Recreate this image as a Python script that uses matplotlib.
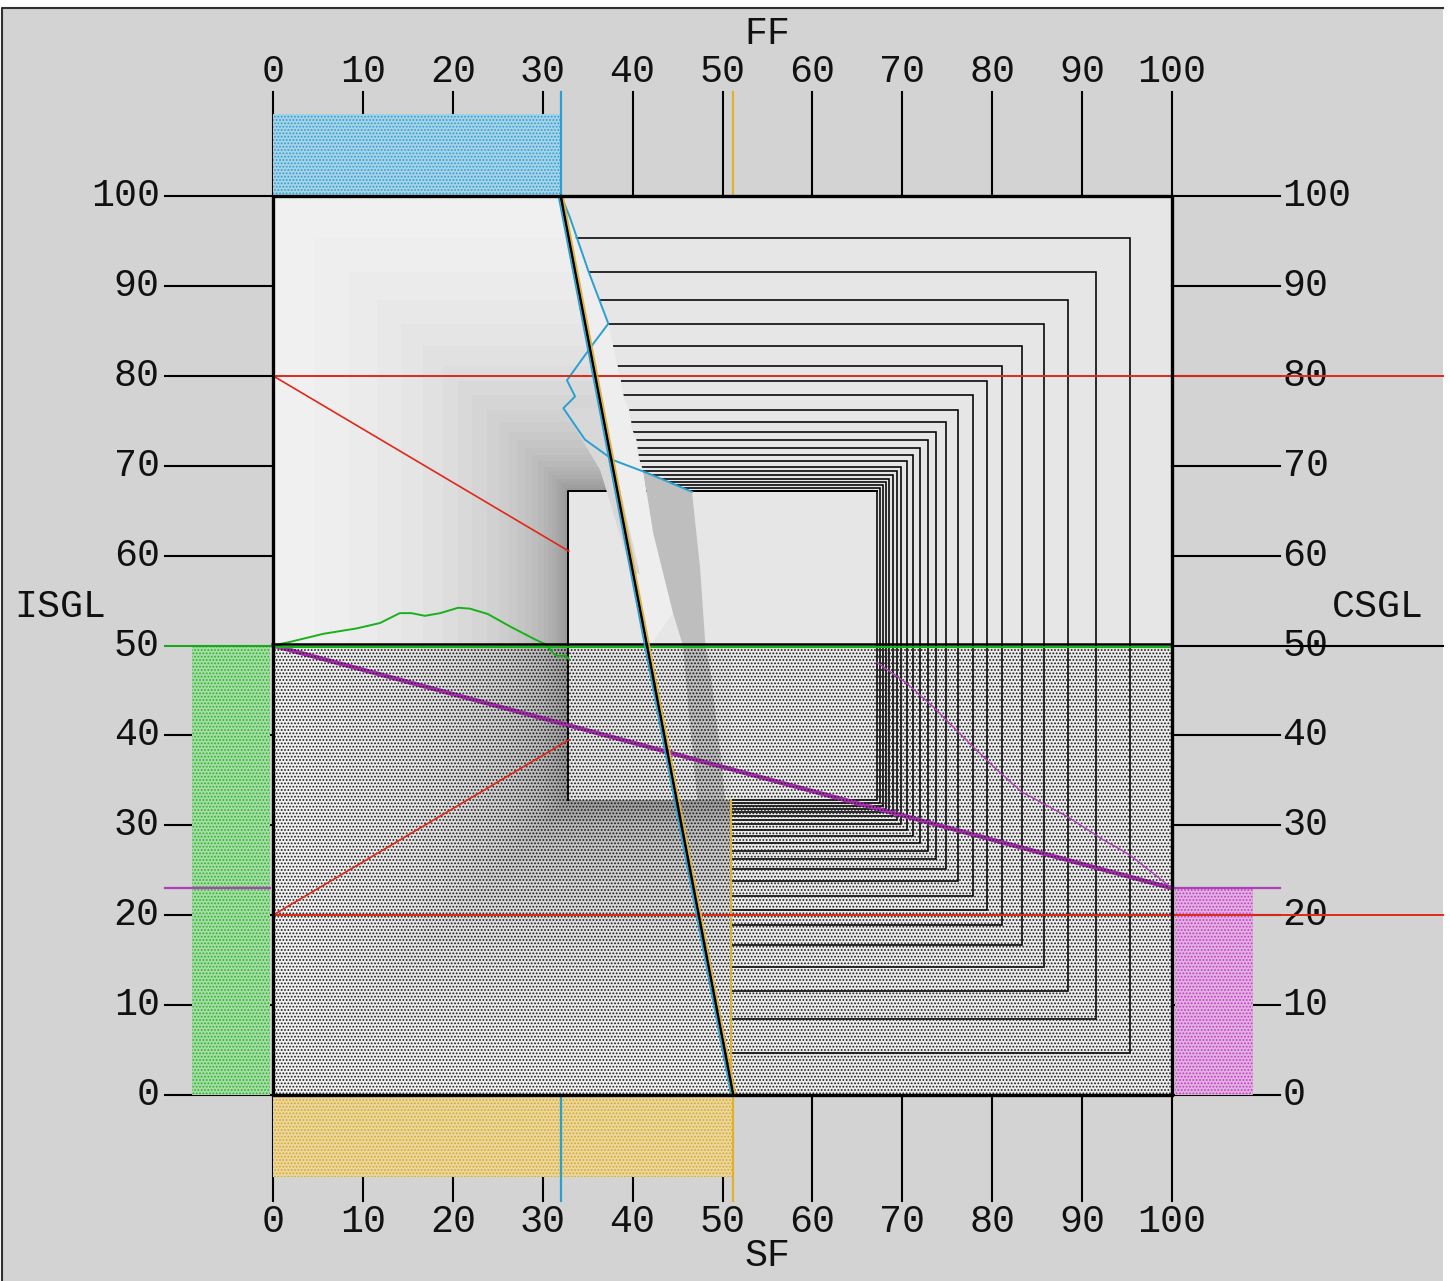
import numpy as np
import matplotlib
matplotlib.use("Agg")
import matplotlib.pyplot as plt
from matplotlib.patches import Rectangle, Polygon, PathPatch
from matplotlib.path import Path

# ---------------- data ----------------
ticks = list(range(0, 101, 10))
tick_labels = [str(t) for t in ticks]
ff_value = 32.0        # FF (top axis)
sf_value = 51.2        # SF (bottom axis)
isgl_value = 50.0      # ISGL (left axis)
csgl_value = 23.0      # CSGL (right axis)
red_levels = [80.0, 20.0]
red_diag_end_x = 32.9
red_diag_end_y = [60.5, 39.5]

square_half = [45.3, 41.6, 38.4, 35.8, 33.3, 31.1, 29.4, 27.9, 26.2, 24.9,
               23.8, 22.9, 22.0, 21.2, 20.5, 19.9, 19.4, 19.0, 18.55, 18.2,
               17.8, 17.5, 17.15]

green_x = [0.0, 1.9, 5.6, 9.3, 11.9, 14.1, 15.4, 16.9, 18.6, 20.6, 21.9, 23.9,
           26.4, 29.3, 30.4, 31.2, 31.7, 32.5, 33.0]
green_y = [50.0, 50.4, 51.3, 51.9, 52.5, 53.6, 53.6, 53.3, 53.6, 54.2, 54.1, 53.5,
           52.1, 50.6, 50.1, 49.1, 48.8, 48.9, 48.4]

blue_x = [32.1, 33.0, 35.1, 37.3, 35.5, 32.7, 33.6, 32.3, 34.7, 37.9, 41.6, 46.6]
blue_y = [99.9, 97.7, 91.6, 85.8, 83.4, 79.5, 77.7, 76.4, 72.9, 70.6, 69.2, 67.1]

purple_x = [67.2, 70.5, 73.4, 77.9, 80.5, 83.3, 88.3, 92.0, 95.3, 100.0]
purple_y = [48.1, 45.8, 43.2, 38.7, 36.2, 33.7, 31.0, 28.6, 26.7, 23.0]

# where the nested frames become visible (right of the flow band)
start_x = [32.0, 33.7, 35.0, 36.4, 37.3, 37.8, 38.3, 38.7, 39.0, 39.6, 40.0, 40.4, 40.7, 41.2]
start_y = [100.0, 95.2, 91.6, 88.3, 85.7, 83.4, 81.2, 79.4, 77.7, 76.3, 73.9, 72.9, 70.8, 69.3]

shadow_x = [41.2, 46.6, 47.5, 48.1, 48.6, 49.9, 50.3, 47.2, 46.3, 45.6, 44.5, 42.3]
shadow_y = [69.3, 67.1, 58.7, 50.0, 47.6, 36.9, 32.8, 32.8, 42.0, 50.0, 53.6, 62.5]

streak_x = [32.3, 36.5, 40.8, 39.9, 36.4]
streak_y = [76.4, 76.4, 58.0, 58.0, 69.5]

# ---------------- figure ----------------
W, H = 1450, 1281
fig = plt.figure(figsize=(W / 100, H / 100), dpi=100, facecolor="white")
plt.rcParams["hatch.linewidth"] = 0.85

ax = fig.add_axes([0, 0, 1, 1])
ax.set_facecolor("none")
s = 8.99
ax.set_xlim(-273 / s, (W - 273) / s)
ax.set_ylim((1095 - H) / s, 1095 / s)
ax.axis("off")

# panel background with dark top/left border (figure coords)
ax.add_patch(Rectangle((2 / W, 0), (1443 - 2) / W, (H - 8) / H,
                       transform=fig.transFigure, facecolor="#d3d3d3",
                       edgecolor="none", zorder=0, clip_on=False))
ax.plot([2 / W, 2 / W, 1443 / W], [0, (H - 8) / H, (H - 8) / H],
        transform=fig.transFigure, color="#303030", lw=1.5, zorder=0.5, clip_on=False)

FONT = dict(family="Liberation Mono", fontsize=27.5, color="#111111")

# ---------- gradient (nested squares, darker toward centre) ----------
ax.add_patch(Rectangle((0, 0), 100, 100, facecolor="#f0f0f0", edgecolor="none", zorder=1))
n = len(square_half)
for i, h in enumerate(square_half[:-1]):
    g = 0.935 - 0.33 * (i / (n - 2)) ** 1.1
    ax.add_patch(Rectangle((50 - h, 50 - h), 2 * h, 2 * h, facecolor=(g, g, g),
                           edgecolor="none", zorder=1))
hin = square_half[-1]
ax.add_patch(Rectangle((50 - hin, 50 - hin), 2 * hin, 2 * hin, facecolor="#e6e6e6",
                       edgecolor="none", zorder=1.2))

# ---------- light regions ----------
ur_x = start_x + [46.6, 47.5, 48.1, 100.0, 100.0]
ur_y = start_y + [67.1, 58.7, 50.0, 50.0, 100.0]
ax.add_patch(Polygon(np.column_stack([ur_x, ur_y]), closed=True, facecolor="#e6e6e6",
                     edgecolor="none", zorder=2))
lr_x0 = sf_value - 0.3
ax.add_patch(Rectangle((lr_x0, 0), 100 - lr_x0, 50, facecolor="#ececec",
                       edgecolor="none", zorder=2))

# clip path = union of the light regions
p1 = Path(np.column_stack([ur_x + [ur_x[0]], ur_y + [ur_y[0]]]), closed=True)
p2 = Path(np.array([[lr_x0, 0], [100, 0], [100, 50], [lr_x0, 50], [lr_x0, 0]]), closed=True)
clip = PathPatch(Path.make_compound_path(p1, p2), transform=ax.transData,
                 facecolor="none", edgecolor="none")
ax.add_patch(clip)

for h in square_half:
    ln, = ax.plot([50 - h, 50 + h, 50 + h, 50 - h], [50 + h, 50 + h, 50 - h, 50 - h],
                  color="black", lw=1.15, zorder=3, solid_joinstyle="miter")
    ln.set_clip_path(clip)

# inner box left & top edges
ax.plot([50 - hin, 50 - hin, 50 + hin], [50 - hin, 50 + hin, 50 + hin],
        color="black", lw=1.4, zorder=2.6)

# ---------- flow band, shadow, streak ----------
diag_mid_x = ff_value + (sf_value - ff_value) * 0.5
band_x = start_x + [42.3, 44.5, 42.0, diag_mid_x]
band_y = start_y + [62.5, 53.6, 50.0, 50.0]
ax.add_patch(Polygon(np.column_stack([band_x, band_y]), closed=True,
                     facecolor="#eeeeee", edgecolor="none", zorder=4))
ax.add_patch(Polygon(np.column_stack([shadow_x, shadow_y]), closed=True,
                     facecolor="#bebebe", edgecolor="none", zorder=4))
ax.add_patch(Polygon(np.column_stack([streak_x, streak_y]), closed=True,
                     facecolor="#d8d8d8", edgecolor="none", zorder=4))

# ---------- dotted lower half ----------
ax.add_patch(Rectangle((0, 0), 100, 50, fill=False, hatch=".....",
                       edgecolor="#1a1a1a", lw=0, zorder=5.5))

# ---------- colored side fills ----------
fills = [
    ((0, 100), ff_value, 109.1 - 100, "#a8d3e6", "#2a9fd2"),
    ((0, -9.1), sf_value, 9.1, "#ead7a0", "#d9a826"),
    ((-9.0, 0), 8.7, isgl_value, "#a6dca6", "#2ab42a"),
    ((100.3, 0), 8.7, csgl_value, "#e2b0e2", "#c040c0"),
]

# ---------- tick marks ----------
for t in ticks:
    ax.plot([t, t], [100, 111.6], color="black", lw=1.5, zorder=2)
    ax.plot([t, t], [0, -11.8], color="black", lw=1.5, zorder=2)
    if t != 50:
        ax.plot([-12, 0], [t, t], color="black", lw=1.5, zorder=2)
        ax.plot([100, 112], [t, t], color="black", lw=1.5, zorder=2)

for (xy, w, hh, fc, hc) in fills:
    ax.add_patch(Rectangle(xy, w, hh, facecolor=fc, edgecolor="none", zorder=3))
    ax.add_patch(Rectangle(xy, w, hh, fill=False, hatch=".....", edgecolor=hc,
                           lw=0, zorder=3.1))

ax.plot([ff_value, ff_value], [100, 111.6], color="#2aa0d0", lw=1.6, zorder=6)
ax.plot([ff_value, ff_value], [0, -11.8], color="#2aa0d0", lw=1.6, zorder=6)
ax.plot([sf_value, sf_value], [100, 111.6], color="#e0b030", lw=1.6, zorder=6)
ax.plot([sf_value, sf_value], [0, -11.8], color="#e0b030", lw=1.6, zorder=6)

# ---------- lines ----------
right_edge = (1443 - 273) / s
for lv, ye in zip(red_levels, red_diag_end_y):
    ax.plot([0, right_edge], [lv, lv], color="#e02818", lw=1.4, zorder=7)
    ax.plot([0, red_diag_end_x], [lv, ye], color="#e02818", lw=1.2, zorder=6)

ax.plot([-12, 0], [isgl_value, isgl_value], color="#1aa81a", lw=1.5, zorder=7)
ax.plot([100, right_edge], [50, 50], color="black", lw=1.5, zorder=7)
ax.plot([0, 100], [50.12, 50.12], color="black", lw=1.8, zorder=7)
ax.plot([0, 100], [49.85, 49.85], color="#1ab01a", lw=1.6, zorder=7.1)

ax.plot(green_x, green_y, color="#1ab01a", lw=1.4, zorder=6)
ax.plot(blue_x, blue_y, color="#2aa0d0", lw=1.4, zorder=6)
ax.plot(purple_x, purple_y, color="#b040b8", lw=1.0, zorder=6)
ax.plot([0, 100], [isgl_value, csgl_value], color="#b030b8", lw=3.2, zorder=5)
ax.plot([-12, -0.3], [csgl_value, csgl_value], color="#b040b8", lw=1.6, zorder=7)
ax.plot([100.3, 112], [csgl_value, csgl_value], color="#b040b8", lw=1.6, zorder=7)

# yellow SF line inside the square
ax.plot([sf_value - 0.3, sf_value - 0.3], [0, 32.8], color="#e0b030", lw=1.5, zorder=6)

# diagonal FF -> SF with blue / yellow edges
ax.plot([ff_value - 0.25, sf_value - 0.25], [100, 0], color="#2aa0d0", lw=1.2, zorder=8)
ax.plot([ff_value + 0.25, sf_value + 0.25], [100, 0], color="#e0b030", lw=1.2, zorder=8)
ax.plot([ff_value, sf_value], [100, 0], color="black", lw=1.8, zorder=8.1)

# main square border
ax.add_patch(Rectangle((0, 0), 100, 100, fill=False, edgecolor="black", lw=2.4, zorder=9))

# ---------- texts ----------
for t, lab in zip(ticks, tick_labels):
    ax.text(t, 113.8, lab, ha="center", va="center", zorder=10, **FONT)
    ax.text(t, -14.1, lab, ha="center", va="center", zorder=10, **FONT)
    ax.text(-12.6, t, lab, ha="right", va="center", zorder=6.5, **FONT)
    ax.text(112.3, t, lab, ha="left", va="center", zorder=6.5, **FONT)

ax.text(54.95, 118.0, "FF", ha="center", va="center", zorder=10, **FONT)
ax.text(54.95, -17.9, "SF", ha="center", va="center", zorder=10, **FONT)
ax.text(-23.7, 54.3, "ISGL", ha="center", va="center", zorder=10, **FONT)
ax.text(122.9, 54.3, "CSGL", ha="center", va="center", zorder=10, **FONT)

fig.savefig("out.png", dpi=100, facecolor="white")
